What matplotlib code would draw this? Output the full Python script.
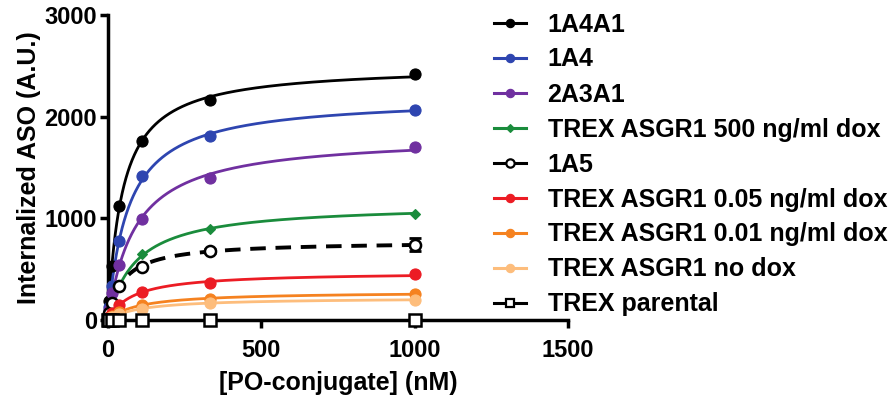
import numpy as np
import matplotlib
matplotlib.use("Agg")
import matplotlib.pyplot as plt

plt.rcParams['font.family'] = ['Liberation Sans', 'DejaVu Sans']
plt.rcParams['font.weight'] = 'bold'

conc = [0, 4.1, 12.3, 37, 111, 333, 1000]

labels = ["1A4A1", "1A4", "2A3A1", "TREX ASGR1 500 ng/ml dox", "1A5",
          "TREX ASGR1 0.05 ng/ml dox", "TREX ASGR1 0.01 ng/ml dox",
          "TREX ASGR1 no dox", "TREX parental"]

v_1a4a1 = [10, 190, 530, 1125, 1760, 2160, 2420]
v_1a4 = [8, 130, 330, 775, 1415, 1805, 2065]
v_2a3a1 = [6, 100, 265, 545, 995, 1400, 1700]
v_trex500 = [5, 35, 130, 320, 650, 900, 1045]
v_1a5 = [5, 65, 165, 330, 520, 680, 740]
v_trex005 = [3, 30, 70, 150, 275, 360, 450]
v_trex001 = [2, 20, 40, 75, 145, 205, 260]
v_trexno = [2, 15, 30, 55, 110, 165, 200]
v_parental = [0, 0, 0, 0, 0, 0, 0]

err_1a5 = [0, 0, 0, 0, 0, 20, 65]

series = [v_1a4a1, v_1a4, v_2a3a1, v_trex500, v_1a5, v_trex005, v_trex001, v_trexno, v_parental]
colors = ["#000000", "#2e45b0", "#7030a0", "#1a8c3c", "#000000", "#ec1c24", "#f58220", "#fdbd7c", "#000000"]
markers = ["o", "o", "o", "D", "o", "o", "o", "o", "s"]
msizes = [8, 8, 8, 5.5, 8, 8, 8, 8, 8]
mfcs = [None, None, None, None, "white", None, None, None, "white"]
lstyles = ["-", "-", "-", "-", (0, (4, 2.5)), "-", "-", "-", "-"]
lwidths = [2, 2, 2, 2, 2.8, 2, 2, 2, 2]


def fit_curve(x, y):
    x = np.asarray(x, float)
    y = np.asarray(y, float)
    best = None
    for kd in np.logspace(0, 3, 600):
        f = x / (kd + x)
        bmax = (f @ y) / (f @ f) if (f @ f) > 0 else 0
        r = np.sum((y - bmax * f) ** 2)
        if best is None or r < best[0]:
            best = (r, kd, bmax)
    return best[1], best[2]


fig = plt.figure(figsize=(8.88, 4.0), dpi=100)
ax = fig.add_axes([0.1216, 0.2, 0.518, 0.7625])

xs = np.linspace(0, 1000, 800)
handles = []
for i, (vals, lab) in enumerate(zip(series, labels)):
    c = colors[i]
    if max(vals) > 0:
        kd, bmax = fit_curve(conc, vals)
        ys = bmax * xs / (kd + xs)
    else:
        ys = np.zeros_like(xs)
    ax.plot(xs, ys, color=c, lw=lwidths[i], linestyle=lstyles[i], clip_on=False, zorder=2)
    mfc = mfcs[i] if mfcs[i] else c
    mew = 1.8 if mfcs[i] else 0.8
    if lab == "1A5":
        ax.errorbar(conc, vals, yerr=err_1a5, fmt='none', ecolor=c, elinewidth=2, capsize=4,
                    capthick=2, clip_on=False, zorder=3)
    ax.plot(conc, vals, linestyle='none', marker=markers[i], ms=msizes[i], mfc=mfc, mec=c,
            mew=mew, clip_on=False, zorder=4)
    h, = ax.plot([], [], color=c, lw=2.2, marker=markers[i], ms=msizes[i] * 0.75,
                 mfc=mfc, mec=c, mew=1.6 if mfcs[i] else 0.8, label=lab)
    handles.append(h)

ax.set_xlim(0, 1500)
ax.set_ylim(0, 3000)
ax.set_xticks([0, 500, 1000, 1500])
ax.set_yticks([0, 1000, 2000, 3000])
for s in ["top", "right"]:
    ax.spines[s].set_visible(False)
for s in ["left", "bottom"]:
    ax.spines[s].set_linewidth(2.5)
ax.tick_params(axis='both', width=2.5, length=6, labelsize=17, pad=2)
ax.tick_params(axis='x', pad=8)
for t in ax.get_xticklabels() + ax.get_yticklabels():
    t.set_fontweight('bold')
ax.set_xlabel("[PO-conjugate] (nM)", fontsize=18, fontweight='bold', labelpad=6)
ax.set_ylabel("Internalized ASO (A.U.)", fontsize=18, fontweight='bold', labelpad=2)

leg = fig.legend(handles=handles, loc='upper left', bbox_to_anchor=(0.542, 1.0),
                 frameon=False, fontsize=18, handlelength=1.3, handletextpad=0.85,
                 labelspacing=0.44, borderpad=0.0)
for t in leg.get_texts():
    t.set_fontweight('bold')

fig.savefig("out.png", dpi=100)
